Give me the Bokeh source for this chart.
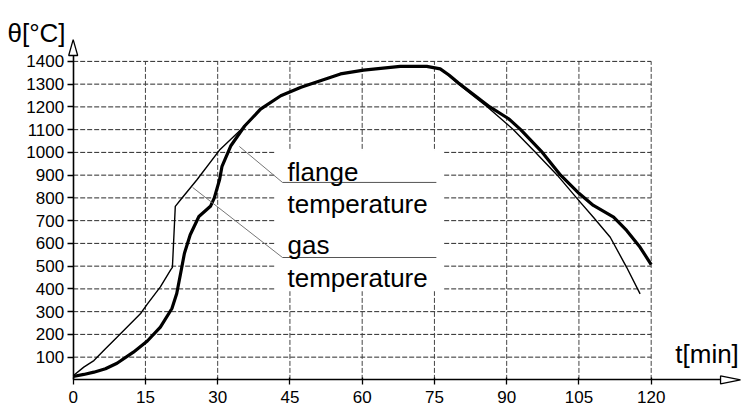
from bokeh.plotting import figure
from bokeh.models import LinearAxis, FixedTicker, Range1d
from bokeh.core.properties import value
from bokeh.embed import file_html
from bokeh.resources import INLINE

# ---- data ----
x_ticks = [0, 15, 30, 45, 60, 75, 90, 105, 120]
x_tick_labels = ["0", "15", "30", "45", "60", "75", "90", "105", "120"]
y_ticks = [100, 200, 300, 400, 500, 600, 700, 800, 900, 1000, 1100, 1200, 1300, 1400]
y_tick_labels = [str(v) for v in y_ticks]

# gas temperature (thin line)
gas_t = [0, 2.2, 4.3, 6.7, 9.1, 14.0, 15.5, 18.1, 20.3, 20.6, 21.2, 22.3, 25.7, 30.5, 34.8,
         39.0, 43.0, 47.3, 55.5, 60.3, 67.9, 73.4, 76.2, 78.0, 80.0, 86.0, 91.4, 96.0,
         100.5, 104.5, 108.0, 111.5, 114.9, 117.7]
gas_v = [18, 56, 85, 137, 188, 292, 336, 409, 486, 495, 763, 792, 880, 1013, 1100,
         1190, 1249, 1286, 1345, 1362, 1378, 1378, 1367, 1338, 1300, 1200, 1100, 1000,
         900, 800, 715, 627, 495, 378]

# flange temperature (thick line)
flange_t = [0, 2.2, 4.3, 6.7, 9.1, 12.5, 15.4, 18.1, 20.5, 21.5, 22.3, 23.1, 24.3, 26.1, 28.5,
            29.3, 30.4, 30.9, 32.7, 35.6, 38.9, 43.1, 47.3, 55.5, 60.3, 67.9, 73.4, 76.2,
            78.0, 80.0, 86.5, 90.4, 92.9, 97.4, 101.2, 105.0, 108.0, 112.2, 114.9, 117.7,
            120.0]
flange_v = [15, 24, 34, 49, 73, 122, 171, 232, 314, 380, 468, 557, 638, 718, 763,
            800, 881, 939, 1028, 1116, 1190, 1249, 1286, 1345, 1362, 1378, 1378, 1367,
            1340, 1305, 1200, 1148, 1100, 1000, 900, 820, 767, 715, 657, 583, 507]

FONT = "Liberation Sans"

p = figure(width=741, height=408,
           x_range=Range1d(-15.09, 138.75), y_range=Range1d(-125.7, 1667.7),
           output_backend="svg", toolbar_location=None,
           x_axis_location=None, y_axis_location=None, min_border=0)
p.outline_line_color = None
p.grid.visible = False
p.background_fill_color = "white"

# ---- dashed grid ----
p.segment(x0=0, x1=120, y0=y_ticks, y1=y_ticks, line_color="#2a2a2a",
          line_width=1, line_dash="5 2")
p.segment(x0=x_ticks[1:], x1=x_ticks[1:], y0=0, y1=1400, line_color="#444444",
          line_width=1, line_dash="5 2")

# white label box covering the grid
p.quad(left=42.0, right=76.9, bottom=390, top=1010, fill_color="white", line_color=None)

# ---- curves ----
p.line(gas_t, gas_v, line_color="black", line_width=1.4, line_join="round")
p.line(flange_t, flange_v, line_color="black", line_width=3.2, line_join="round")

# ---- leaders and underlines ----
p.line([34.5, 43.45], [1026, 868], line_color="#777777", line_width=1)
p.line([24.8, 43.45], [846, 538], line_color="#777777", line_width=1)
p.line([43.45, 75.4], [868, 868], line_color="#555555", line_width=1)
p.line([43.45, 75.4], [538, 538], line_color="#555555", line_width=1)

p.text(x=[44.5, 44.5, 44.5, 44.5], y=[912, 775, 591, 450],
       text=["flange", "temperature", "gas", "temperature"],
       text_font=value(FONT), text_font_size="26px", text_color="black",
       text_baseline="alphabetic", text_align="left")

# ---- axes ----
xaxis = LinearAxis(fixed_location=0, ticker=FixedTicker(ticks=x_ticks),
                   bounds=(0, 134.4))
xaxis.major_label_overrides = dict(zip(x_ticks, x_tick_labels))
xaxis.minor_tick_line_color = None
xaxis.major_tick_out = 5
xaxis.major_tick_in = 2
xaxis.major_label_standoff = 6
xaxis.axis_line_width = 1.6
xaxis.major_tick_line_width = 1.3
xaxis.major_label_text_font = FONT
xaxis.major_label_text_font_size = "17px"
xaxis.major_label_text_color = "black"
p.add_layout(xaxis, "below")

yaxis = LinearAxis(fixed_location=0, ticker=FixedTicker(ticks=y_ticks),
                   bounds=(0, 1426))
yaxis.major_label_overrides = dict(zip(y_ticks, y_tick_labels))
yaxis.minor_tick_line_color = None
yaxis.major_tick_out = 6
yaxis.major_tick_in = 0
yaxis.major_label_standoff = 3
yaxis.axis_line_width = 1.6
yaxis.major_tick_line_width = 1.3
yaxis.major_label_text_font = FONT
yaxis.major_label_text_font_size = "17px"
yaxis.major_label_text_color = "black"
p.add_layout(yaxis, "left")

# open arrow heads
p.patch([0, -0.934, 0.934], [1496, 1426, 1426], fill_color="white",
        line_color="black", line_width=1.3)
p.patch([138.54, 134.4, 134.4], [0, 17.6, -17.6], fill_color="white",
        line_color="black", line_width=1.3)

# axis titles
p.text(x=[-13.64], y=[1523], text=["θ[°C]"], text_font=value(FONT),
       text_font_size="26px", text_color="black", text_baseline="alphabetic")
p.text(x=[125.0], y=[116], text=["t[min]"], text_font=value(FONT),
       text_font_size="26px", text_color="black", text_baseline="alphabetic")

open("out.html", "w").write(file_html(p, INLINE))
